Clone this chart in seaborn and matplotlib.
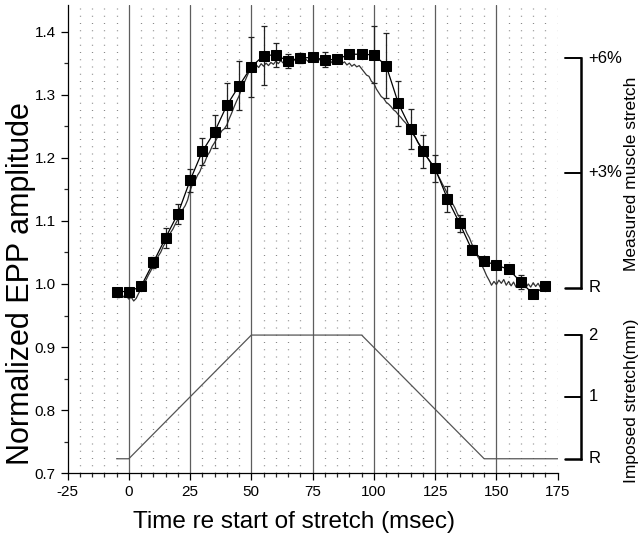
"""EPP amplitude vs time relative to start of muscle stretch."""

import matplotlib

matplotlib.use("Agg")
import matplotlib.pyplot as plt
import seaborn as sns
from matplotlib.ticker import FormatStrFormatter, MultipleLocator

# Data: normalized EPP amplitude (mean +/- error), every 5 ms
epp_time = [-5, 0, 5, 10, 15, 20, 25, 30, 35, 40, 45, 50, 55, 60, 65, 70, 75, 80,
            85, 90, 95, 100, 105, 110, 115, 120, 125, 130, 135, 140, 145, 150, 155,
            160, 165, 170]
epp_amp = [0.988, 0.988, 0.996, 1.034, 1.073, 1.111, 1.164, 1.210, 1.241, 1.283,
           1.314, 1.344, 1.362, 1.363, 1.353, 1.358, 1.359, 1.355, 1.356, 1.364,
           1.364, 1.363, 1.346, 1.286, 1.246, 1.210, 1.183, 1.135, 1.096, 1.054,
           1.036, 1.030, 1.023, 1.003, 0.984, 0.996]
epp_err = [0.003, 0.004, 0.004, 0.008, 0.016, 0.016, 0.018, 0.021, 0.026, 0.036,
           0.039, 0.047, 0.047, 0.019, 0.011, 0.008, 0.004, 0.012, 0.005, 0.003,
           0.003, 0.045, 0.052, 0.036, 0.032, 0.026, 0.022, 0.021, 0.013, 0.007,
           0.005, 0.004, 0.004, 0.011, 0.006, 0.003]

# Measured muscle stretch trace (plotted on the EPP scale), 1 ms steps
trace_time = list(range(-5, 173))
trace_val = [
    0.982, 0.978, 0.984, 0.979, 0.981, 0.976, 0.979, 0.973, 0.977, 0.985,
    0.992, 1.000, 1.006, 1.014, 1.021, 1.029, 1.036, 1.044, 1.050, 1.059,
    1.066, 1.072, 1.081, 1.087, 1.095, 1.102, 1.109, 1.118, 1.124, 1.133,
    1.148, 1.158, 1.163, 1.172, 1.178, 1.188, 1.193, 1.203, 1.209, 1.218,
    1.224, 1.231, 1.236, 1.243, 1.246, 1.252, 1.262, 1.271, 1.281, 1.290,
    1.298, 1.309, 1.318, 1.327, 1.336, 1.344, 1.340, 1.347, 1.343, 1.349,
    1.345, 1.350, 1.346, 1.351, 1.348, 1.353, 1.349, 1.354, 1.350, 1.355,
    1.351, 1.356, 1.352, 1.357, 1.353, 1.356, 1.352, 1.357, 1.353, 1.358,
    1.354, 1.357, 1.353, 1.356, 1.352, 1.356, 1.351, 1.355, 1.350, 1.354,
    1.350, 1.353, 1.349, 1.352, 1.347, 1.350, 1.345, 1.348, 1.344, 1.346,
    1.341, 1.336, 1.331, 1.329, 1.321, 1.318, 1.309, 1.303, 1.297, 1.294,
    1.288, 1.285, 1.281, 1.276, 1.273, 1.268, 1.264, 1.259, 1.255, 1.249,
    1.244, 1.237, 1.232, 1.224, 1.219, 1.211, 1.206, 1.199, 1.193, 1.187,
    1.180, 1.173, 1.166, 1.158, 1.151, 1.143, 1.137, 1.128, 1.121, 1.112,
    1.105, 1.097, 1.089, 1.080, 1.073, 1.063, 1.056, 1.046, 1.039, 1.030,
    1.022, 1.013, 1.006, 0.998, 1.004, 0.999, 1.006, 1.001, 1.007, 0.998,
    1.004, 0.997, 1.003, 0.995, 1.002, 0.996, 1.001, 0.994, 1.000, 0.995,
    1.002, 0.996, 1.001, 0.994, 0.999, 0.995, 1.000, 0.997,
]

# Imposed stretch protocol (mm)
stretch_time = [-5, 0, 50, 95, 145, 175]
stretch_mm = [0, 0, 2, 2, 0, 0]

# Scale bars (levels on the EPP axis)
muscle_bar_levels = [0.994, 1.176, 1.358]
muscle_bar_labels = ["R", "+3%", "+6%"]
imposed_bar_levels = [0.723, 0.821, 0.919]
imposed_bar_labels = ["R", "1", "2"]

# Style
sns.set_style("ticks")
plt.rcParams["font.family"] = ["Liberation Sans", "DejaVu Sans"]
plt.rcParams["axes.unicode_minus"] = False
plt.rcParams["text.color"] = "black"
plt.rcParams["axes.labelcolor"] = "black"

fig = plt.figure(figsize=(6.4, 5.45), dpi=100)
ax = fig.add_axes([0.1055, 0.1316, 0.7659, 0.8592])

# vertical grid: solid every 25 ms, dotted every 5 ms
for t in range(-20, 176, 5):
    if t % 25 == 0 and t < 175:
        ax.axvline(t, color="#5e5e5e", lw=0.9, zorder=0)
    else:
        ax.axvline(t, color="#8a8a8a", lw=0.9, ls=(0, (0.8, 5)), zorder=0)

# imposed stretch trapezoid, mapped onto the EPP axis
mm_scale = (imposed_bar_levels[-1] - imposed_bar_levels[0]) / 2.0
stretch_y = [imposed_bar_levels[0] + v * mm_scale for v in stretch_mm]
ax.plot(stretch_time, stretch_y, color="#555555", lw=0.9, zorder=2)

# measured muscle stretch trace
sns.lineplot(x=trace_time, y=trace_val, ax=ax, color="#333333", lw=0.9,
             estimator=None, sort=False, zorder=3)

# EPP amplitude means with error bars
ax.errorbar(epp_time, epp_amp, yerr=epp_err, fmt="none", ecolor="#222222",
            elinewidth=0.9, capsize=2.5, capthick=0.9, zorder=4)
sns.lineplot(x=epp_time, y=epp_amp, ax=ax, color="black", lw=0.9,
             marker="s", markersize=7, markeredgecolor="black",
             markerfacecolor="black", estimator=None, sort=False, zorder=5)

# scale bars on the right
bar_x, tick_x0, text_x = 184.5, 178.0, 187.5


def draw_bracket(levels, labels):
    ax.plot([bar_x, bar_x], [levels[0], levels[-1]], color="black", lw=1.8,
            clip_on=False, solid_capstyle="projecting")
    for lv, lab in zip(levels, labels):
        ax.plot([tick_x0, bar_x], [lv, lv], color="black",
                lw=1.4 if lab != "R" else 1.8, clip_on=False)
        ax.text(text_x, lv, lab, ha="left", va="center", fontsize=12,
                clip_on=False)


draw_bracket(muscle_bar_levels, muscle_bar_labels)
draw_bracket(imposed_bar_levels, imposed_bar_labels)

ax.text(205.0, 1.175, "Measured muscle stretch", rotation=90, ha="center",
        va="center", fontsize=12.5, clip_on=False)
ax.text(205.0, 0.815, "Imposed stretch(mm)", rotation=90, ha="center",
        va="center", fontsize=12.5, clip_on=False)

# axes
ax.set_xlim(-25, 175)
ax.set_ylim(0.7, 1.442)
ax.xaxis.set_major_locator(MultipleLocator(25))
ax.xaxis.set_minor_locator(MultipleLocator(5))
ax.yaxis.set_major_locator(MultipleLocator(0.1))
ax.yaxis.set_minor_locator(MultipleLocator(0.05))
ax.yaxis.set_major_formatter(FormatStrFormatter("%.1f"))
ax.tick_params(axis="both", which="major", direction="out", length=5,
               width=0.9, labelsize=11, colors="black")
ax.tick_params(axis="both", which="minor", direction="out", length=3,
               width=0.9)

sns.despine(ax=ax, top=True, right=True)
for side in ("left", "bottom"):
    ax.spines[side].set_color("black")
    ax.spines[side].set_linewidth(0.9)

ax.set_xlabel("Time re start of stretch (msec)", fontsize=17.5)
ax.set_ylabel("Normalized EPP amplitude", fontsize=22)
ax.xaxis.set_label_coords(0.462, -0.08)
ax.yaxis.set_label_coords(-0.064, 0.406)

fig.savefig("out.png", dpi=100)
